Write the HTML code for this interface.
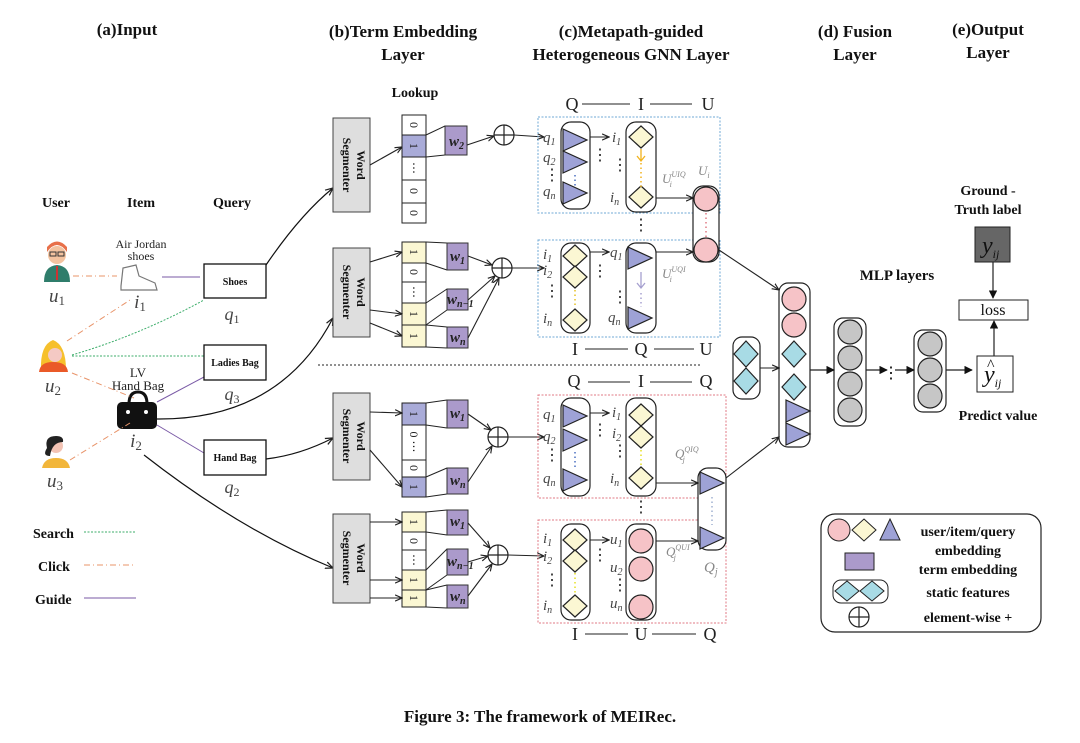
<!DOCTYPE html>
<html><head><meta charset="utf-8"><style>
html,body{margin:0;padding:0;background:#fff;}
svg{display:block;}
.h{font-family:"Liberation Serif",serif;font-weight:bold;font-size:17px;fill:#111;}
.b{font-family:"Liberation Serif",serif;font-weight:bold;fill:#111;}
.s{font-family:"Liberation Serif",serif;fill:#222;}
.i{font-family:"Liberation Serif",serif;font-style:italic;fill:#444;}
.g{font-family:"Liberation Serif",serif;font-style:italic;fill:#888;}
</style></head><body>
<svg width="1080" height="743" viewBox="0 0 1080 743" xmlns="http://www.w3.org/2000/svg">
<defs>
<marker id="ar" viewBox="0 0 10 10" refX="9" refY="5" markerWidth="7" markerHeight="7" orient="auto"><path d="M0,1 L9,5 L0,9" fill="none" stroke="#222" stroke-width="1.5"/></marker>
<marker id="af" viewBox="0 0 10 10" refX="9" refY="5" markerWidth="7" markerHeight="7" orient="auto"><path d="M0,0 L10,5 L0,10 z" fill="#111"/></marker>
<polygon id="tri" points="0,-11 24,0 0,11" fill="#9ea2d6" stroke="#222" stroke-width="1.2"/>
<polygon id="dia" points="0,-11 12,0 0,11 -12,0" fill="#fbf7d3" stroke="#222" stroke-width="1.2"/>
<polygon id="cdia" points="0,-13 12,0 0,13 -12,0" fill="#a8dbe5" stroke="#222" stroke-width="1.2"/>
<circle id="pc" r="12" fill="#f6c3c7" stroke="#222" stroke-width="1.2"/>
<circle id="gc" r="12" fill="#c6c6c6" stroke="#222" stroke-width="1.2"/>
<g id="plus"><circle r="10" fill="#fff" stroke="#222" stroke-width="1.2"/><path d="M-10,0 H10 M0,-10 V10" stroke="#222" stroke-width="1.2"/></g>
</defs>

<!-- headers -->
<text class="h" x="127" y="35" text-anchor="middle">(a)Input</text>
<text class="h" x="403" y="37" text-anchor="middle">(b)Term Embedding</text>
<text class="h" x="403" y="60" text-anchor="middle">Layer</text>
<text class="h" x="631" y="37" text-anchor="middle">(c)Metapath-guided</text>
<text class="h" x="631" y="60" text-anchor="middle">Heterogeneous GNN Layer</text>
<text class="h" x="855" y="37" text-anchor="middle">(d) Fusion</text>
<text class="h" x="855" y="60" text-anchor="middle">Layer</text>
<text class="h" x="988" y="35" text-anchor="middle">(e)Output</text>
<text class="h" x="988" y="58" text-anchor="middle">Layer</text>
<text class="b" x="415" y="97" font-size="14" text-anchor="middle">Lookup</text>

<!-- input -->
<text class="b" x="56" y="207" font-size="14" text-anchor="middle">User</text>
<text class="b" x="141" y="207" font-size="14" text-anchor="middle">Item</text>
<text class="b" x="232" y="207" font-size="14" text-anchor="middle">Query</text>

<!-- avatars -->
<g>
<circle cx="57" cy="255" r="9" fill="#f3c3a0"/><path d="M47,252 Q57,238 67,252 L67,247 Q57,236 47,247z" fill="#e8704a"/>
<rect x="50" y="252" width="6" height="4" fill="none" stroke="#333"/><rect x="58" y="252" width="6" height="4" fill="none" stroke="#333"/>
<path d="M44,282 Q44,266 57,265 Q70,266 70,282z" fill="#2f7d6b"/><rect x="56" y="266" width="2" height="14" fill="#c33"/>
</g>
<g>
<path d="M41,370 Q40,345 53,340 Q66,345 66,370z" fill="#f6c02c"/><circle cx="55" cy="355" r="7" fill="#f4c9c4"/>
<path d="M39,372 Q40,362 53,362 Q67,362 68,372z" fill="#ea5a28"/>
</g>
<g>
<circle cx="56" cy="446" r="7" fill="#f3c3b4"/><path d="M47,448 Q44,436 56,436 Q64,436 63,442 Q52,442 50,456 Q42,456 47,448z" fill="#222"/>
<path d="M42,468 Q44,458 56,458 Q68,458 70,468z" fill="#f2b63a"/>
</g>
<text class="i" x="57" y="302" font-size="19" text-anchor="middle">u<tspan font-size="13" dy="3" font-style="normal">1</tspan></text>
<text class="i" x="53" y="392" font-size="19" text-anchor="middle">u<tspan font-size="13" dy="3" font-style="normal">2</tspan></text>
<text class="i" x="55" y="487" font-size="19" text-anchor="middle">u<tspan font-size="13" dy="3" font-style="normal">3</tspan></text>

<text class="s" x="141" y="248" font-size="12" text-anchor="middle">Air Jordan</text>
<text class="s" x="141" y="260" font-size="12" text-anchor="middle">shoes</text>
<path d="M121,286 L123,268 L136,265 L139,276 L155,283 L157,290 L121,290z" fill="#fff" stroke="#777" stroke-width="1.2"/>
<text class="i" x="140" y="308" font-size="19" text-anchor="middle">i<tspan font-size="13" dy="3" font-style="normal">1</tspan></text>
<text class="s" x="138" y="377" font-size="13" text-anchor="middle">LV</text>
<text class="s" x="138" y="390" font-size="13" text-anchor="middle">Hand Bag</text>
<path d="M129,404 Q129,392 138,392 Q147,392 147,404" fill="none" stroke="#111" stroke-width="3"/>
<rect x="117" y="402" width="40" height="27" rx="5" fill="#111"/>
<circle cx="128" cy="412" r="2" fill="#fff"/><circle cx="146" cy="412" r="2" fill="#fff"/>
<text class="i" x="136" y="447" font-size="19" text-anchor="middle">i<tspan font-size="13" dy="3" font-style="normal">2</tspan></text>

<!-- input edges -->
<g fill="none" stroke-width="1">
<path d="M73,276 L117,276" stroke="#e8946a" stroke-dasharray="6,3,1,3"/>
<path d="M67,341 L130,300" stroke="#e8946a" stroke-dasharray="6,3,1,3"/>
<path d="M72,373 L134,398" stroke="#e8946a" stroke-dasharray="6,3,1,3"/>
<path d="M70,460 L130,423" stroke="#e8946a" stroke-dasharray="6,3,1,3"/>
<path d="M72,355 Q140,335 204,300" stroke="#3cad6a" stroke-dasharray="2,1.5"/>
<path d="M72,356 L204,356" stroke="#3cad6a" stroke-dasharray="2,1.5"/>
<path d="M162,277 L200,277" stroke="#7a5aa6"/>
<path d="M157,402 L204,377" stroke="#7a5aa6"/>
<path d="M157,425 L204,453" stroke="#7a5aa6"/>
</g>
<!-- query boxes -->
<rect x="204" y="264" width="62" height="34" fill="#fff" stroke="#111" stroke-width="1.3"/>
<text class="b" x="235" y="285" font-size="10" text-anchor="middle">Shoes</text>
<rect x="204" y="345" width="62" height="35" fill="#fff" stroke="#111" stroke-width="1.3"/>
<text class="b" x="235" y="366" font-size="10" text-anchor="middle">Ladies Bag</text>
<rect x="204" y="440" width="62" height="35" fill="#fff" stroke="#111" stroke-width="1.3"/>
<text class="b" x="235" y="461" font-size="10" text-anchor="middle">Hand Bag</text>
<text class="i" x="232" y="320" font-size="18" text-anchor="middle">q<tspan font-size="12" dy="3" font-style="normal">1</tspan></text>
<text class="i" x="232" y="400" font-size="18" text-anchor="middle">q<tspan font-size="12" dy="3" font-style="normal">3</tspan></text>
<text class="i" x="232" y="493" font-size="18" text-anchor="middle">q<tspan font-size="12" dy="3" font-style="normal">2</tspan></text>

<!-- legend left -->
<text class="b" x="33" y="538" font-size="14">Search</text>
<path d="M84,532 L136,532" stroke="#3cad6a" stroke-dasharray="2,1.5"/>
<text class="b" x="38" y="571" font-size="14">Click</text>
<path d="M84,565 L134,565" stroke="#e8946a" stroke-dasharray="6,3,1,3"/>
<text class="b" x="35" y="604" font-size="14">Guide</text>
<path d="M84,598 L136,598" stroke="#7a5aa6"/>

<!-- curves to segmenters -->
<g fill="none" stroke="#111" stroke-width="1.2" marker-end="url(#ar)">
<path d="M266,265 Q300,215 333,188"/>
<path d="M157,419 Q280,420 333,318"/>
<path d="M266,459 Q300,455 333,438"/>
<path d="M144,455 Q240,530 333,568"/>
</g>

<!-- word segmenters -->
<g>
<rect x="333" y="118" width="37" height="94" fill="#dedede" stroke="#444"/>
<rect x="333" y="248" width="37" height="89" fill="#dedede" stroke="#444"/>
<rect x="333" y="393" width="37" height="87" fill="#dedede" stroke="#444"/>
<rect x="333" y="514" width="37" height="89" fill="#dedede" stroke="#444"/>
<text class="b" font-size="12" text-anchor="middle" transform="translate(357,165) rotate(90)">Word</text>
<text class="b" font-size="12" text-anchor="middle" transform="translate(343,165) rotate(90)">Segmenter</text>
<text class="b" font-size="12" text-anchor="middle" transform="translate(357,292) rotate(90)">Word</text>
<text class="b" font-size="12" text-anchor="middle" transform="translate(343,292) rotate(90)">Segmenter</text>
<text class="b" font-size="12" text-anchor="middle" transform="translate(357,436) rotate(90)">Word</text>
<text class="b" font-size="12" text-anchor="middle" transform="translate(343,436) rotate(90)">Segmenter</text>
<text class="b" font-size="12" text-anchor="middle" transform="translate(357,558) rotate(90)">Word</text>
<text class="b" font-size="12" text-anchor="middle" transform="translate(343,558) rotate(90)">Segmenter</text>
</g>

<!-- vectors -->
<g stroke="#222" stroke-width="1">
<rect x="402" y="115" width="24" height="20" fill="#fff"/>
<rect x="402" y="135" width="24" height="22" fill="#a9abd8"/>
<rect x="402" y="157" width="24" height="23" fill="#fff"/>
<rect x="402" y="180" width="24" height="23" fill="#fff"/>
<rect x="402" y="203" width="24" height="20" fill="#fff"/>

<rect x="402" y="242" width="24" height="21" fill="#fbf7d3"/>
<rect x="402" y="263" width="24" height="19" fill="#fff"/>
<rect x="402" y="282" width="24" height="21" fill="#fff"/>
<rect x="402" y="303" width="24" height="22" fill="#fbf7d3"/>
<rect x="402" y="325" width="24" height="22" fill="#fbf7d3"/>

<rect x="402" y="403" width="24" height="22" fill="#a9abd8"/>
<rect x="402" y="425" width="24" height="35" fill="#fff"/>
<rect x="402" y="460" width="24" height="17" fill="#fff"/>
<rect x="402" y="477" width="24" height="20" fill="#a9abd8"/>

<rect x="402" y="512" width="24" height="20" fill="#fbf7d3"/>
<rect x="402" y="532" width="24" height="18" fill="#fff"/>
<rect x="402" y="550" width="24" height="20" fill="#fff"/>
<rect x="402" y="570" width="24" height="20" fill="#fbf7d3"/>
<rect x="402" y="590" width="24" height="17" fill="#fbf7d3"/>
</g>
<g class="s" font-size="12" text-anchor="middle">
<text transform="translate(410,125) rotate(90)">0</text>
<text transform="translate(410,146) rotate(90)">1</text>
<text transform="translate(410,168) rotate(90)">⋯</text>
<text transform="translate(410,191) rotate(90)">0</text>
<text transform="translate(410,213) rotate(90)">0</text>
<text transform="translate(410,252) rotate(90)">1</text>
<text transform="translate(410,272) rotate(90)">0</text>
<text transform="translate(410,292) rotate(90)">⋯</text>
<text transform="translate(410,314) rotate(90)">1</text>
<text transform="translate(410,336) rotate(90)">1</text>
<text transform="translate(410,414) rotate(90)">1</text>
<text transform="translate(410,442) rotate(90)">0 ⋯</text>
<text transform="translate(410,468) rotate(90)">0</text>
<text transform="translate(410,487) rotate(90)">1</text>
<text transform="translate(410,522) rotate(90)">1</text>
<text transform="translate(410,541) rotate(90)">0</text>
<text transform="translate(410,560) rotate(90)">⋯</text>
<text transform="translate(410,580) rotate(90)">1</text>
<text transform="translate(410,598) rotate(90)">1</text>
</g>

<!-- segmenter to vector arrows -->
<g fill="none" stroke="#222" stroke-width="1.1" marker-end="url(#ar)">
<path d="M370,165 L402,147"/>
<path d="M370,262 L402,252"/>
<path d="M370,310 L402,314"/>
<path d="M370,323 L402,336"/>
<path d="M370,412 L402,413"/>
<path d="M370,450 L402,487"/>
<path d="M370,522 L402,522"/>
<path d="M370,580 L402,580"/>
<path d="M370,598 L402,598"/>
</g>

<!-- term embedding boxes + trapezoid lines -->
<g stroke="#222" stroke-width="1" fill="none">
<path d="M426,135 L445,126 M426,157 L445,155"/>
<path d="M426,242 L447,243 M426,263 L447,270"/>
<path d="M426,303 L447,289 M426,325 L447,310"/>
<path d="M426,325 L447,327 M426,347 L447,348"/>
<path d="M426,403 L447,400 M426,425 L447,428"/>
<path d="M426,477 L447,468 M426,497 L447,494"/>
<path d="M426,512 L447,510 M426,532 L447,535"/>
<path d="M426,570 L447,549 M426,590 L447,575"/>
<path d="M426,590 L447,585 M426,607 L447,608"/>
</g>
<g fill="#ab9acb" stroke="#333" stroke-width="1">
<rect x="445" y="126" width="22" height="29"/>
<rect x="447" y="243" width="21" height="27"/>
<rect x="447" y="289" width="21" height="21"/>
<rect x="447" y="327" width="21" height="21"/>
<rect x="447" y="400" width="21" height="28"/>
<rect x="447" y="468" width="21" height="26"/>
<rect x="447" y="510" width="21" height="25"/>
<rect x="447" y="549" width="21" height="26"/>
<rect x="447" y="585" width="21" height="23"/>
</g>
<g class="i" font-size="15" fill="#222" style="fill:#222;font-weight:bold">
<text x="449" y="146">w<tspan font-size="10" dy="3">2</tspan></text>
<text x="450" y="261">w<tspan font-size="10" dy="3">1</tspan></text>
<text x="447" y="304">w<tspan font-size="10" dy="3">n−1</tspan></text>
<text x="450" y="342">w<tspan font-size="10" dy="3">n</tspan></text>
<text x="450" y="418">w<tspan font-size="10" dy="3">1</tspan></text>
<text x="450" y="485">w<tspan font-size="10" dy="3">n</tspan></text>
<text x="450" y="526">w<tspan font-size="10" dy="3">1</tspan></text>
<text x="447" y="566">w<tspan font-size="10" dy="3">n−1</tspan></text>
<text x="450" y="601">w<tspan font-size="10" dy="3">n</tspan></text>
</g>
<use href="#plus" x="504" y="135"/>
<use href="#plus" x="502" y="268"/>
<use href="#plus" x="498" y="437"/>
<use href="#plus" x="498" y="555"/>
<g fill="none" stroke="#222" stroke-width="1.1" marker-end="url(#ar)">
<path d="M467,145 L494,136"/>
<path d="M468,256 L492,265"/>
<path d="M468,300 L495,276"/>
<path d="M468,338 L499,278"/>
<path d="M468,414 L491,430"/>
<path d="M468,482 L492,446"/>
<path d="M468,523 L490,548"/>
<path d="M468,562 L488,556"/>
<path d="M468,596 L492,564"/>
<path d="M514,135 L544,137"/>
<path d="M512,268 L544,268"/>
<path d="M508,437 L544,437"/>
<path d="M508,555 L544,556"/>
</g>

<!-- separator -->
<path d="M318,365 L700,365" stroke="#222" stroke-dasharray="2,2" stroke-width="1"/>

<!-- GNN boxes -->
<g fill="none" stroke-width="1" stroke-dasharray="2,1.5">
<rect x="538" y="117" width="182" height="96" stroke="#6fa8d6"/>
<rect x="538" y="240" width="182" height="97" stroke="#6fa8d6"/>
<rect x="538" y="395" width="188" height="103" stroke="#e07a84"/>
<rect x="538" y="520" width="188" height="103" stroke="#e07a84"/>
</g>
<g font-family="Liberation Serif,serif" font-size="18" fill="#222" text-anchor="middle">
<text x="572" y="110">Q</text><text x="641" y="110">I</text><text x="708" y="110">U</text>
<text x="575" y="355">I</text><text x="641" y="355">Q</text><text x="706" y="355">U</text>
<text x="574" y="387">Q</text><text x="641" y="387">I</text><text x="706" y="387">Q</text>
<text x="575" y="640">I</text><text x="641" y="640">U</text><text x="710" y="640">Q</text>
</g>
<g stroke="#222" stroke-width="1">
<path d="M582,104 L630,104 M650,104 L692,104"/>
<path d="M585,349 L628,349 M654,349 L694,349"/>
<path d="M588,382 L630,382 M650,382 L692,382"/>
<path d="M585,634 L628,634 M652,634 L696,634"/>
</g>

<!-- pills -->
<g fill="#fff" stroke="#222" stroke-width="1.2">
<rect x="561" y="122" width="29" height="87" rx="10"/>
<rect x="626" y="122" width="30" height="90" rx="10"/>
<rect x="561" y="243" width="29" height="90" rx="10"/>
<rect x="626" y="243" width="30" height="90" rx="10"/>
<rect x="561" y="398" width="29" height="98" rx="10"/>
<rect x="626" y="398" width="30" height="98" rx="10"/>
<rect x="561" y="524" width="29" height="96" rx="10"/>
<rect x="626" y="524" width="30" height="96" rx="10"/>
<rect x="693" y="186" width="26" height="76" rx="10"/>
<rect x="698" y="468" width="28" height="82" rx="10"/>
</g>
<use href="#tri" x="563" y="140"/><use href="#tri" x="563" y="162"/><use href="#tri" x="563" y="193"/>
<use href="#dia" x="641" y="137"/><use href="#dia" x="641" y="197"/>
<use href="#dia" x="575" y="256"/><use href="#dia" x="575" y="277"/><use href="#dia" x="575" y="320"/>
<use href="#tri" x="628" y="258"/><use href="#tri" x="628" y="318"/>
<use href="#tri" x="563" y="416"/><use href="#tri" x="563" y="440"/><use href="#tri" x="563" y="480"/>
<use href="#dia" x="641" y="415"/><use href="#dia" x="641" y="437"/><use href="#dia" x="641" y="478"/>
<use href="#dia" x="575" y="540"/><use href="#dia" x="575" y="561"/><use href="#dia" x="575" y="606"/>
<use href="#pc" x="641" y="541"/><use href="#pc" x="641" y="569"/><use href="#pc" x="641" y="607"/>
<use href="#pc" x="706" y="199"/><use href="#pc" x="706" y="250"/>
<use href="#tri" x="700" y="483"/><use href="#tri" x="700" y="538"/>

<!-- inner dotted / arrows -->
<g stroke-width="1.5" stroke-dasharray="1.5,3" fill="none">
<path d="M575,175 L575,188" stroke="#4a6fc0"/>
<path d="M641,163 L641,188" stroke="#f2b21c"/>
<path d="M575,290 L575,308" stroke="#e6c020"/>
<path d="M641,293 L641,307" stroke="#a6a0cf"/>
<path d="M575,452 L575,470" stroke="#4a6fc0"/>
<path d="M641,450 L641,466" stroke="#e6e020"/>
<path d="M575,573 L575,594" stroke="#e6e020"/>
<path d="M706,213 L706,238" stroke="#e07a84"/>
<path d="M712,497 L712,525" stroke="#9fb0d0"/>
</g>
<path d="M641,149 L641,160 M637,156 L641,161 L645,156" stroke="#f2b21c" fill="none" stroke-width="1.3"/>
<path d="M641,272 L641,287 M637,283 L641,288 L645,283" stroke="#a6a0cf" fill="none" stroke-width="1.3"/>
<g font-family="Liberation Serif,serif" font-size="16" fill="#222" text-anchor="middle">
<text x="600" y="160">⋮</text><text x="620" y="170">⋮</text><text x="552" y="180">⋮</text>
<text x="641" y="230">⋮</text>
<text x="600" y="276">⋮</text><text x="552" y="296">⋮</text><text x="620" y="302">⋮</text>
<text x="600" y="435">⋮</text><text x="552" y="460">⋮</text><text x="620" y="456">⋮</text>
<text x="641" y="512">⋮</text>
<text x="600" y="560">⋮</text><text x="552" y="585">⋮</text><text x="620" y="590">⋮</text>
</g>
<g fill="none" stroke="#222" stroke-width="1.1" marker-end="url(#ar)">
<path d="M590,137 L609,137"/>
<path d="M656,198 L693,198"/>
<path d="M590,252 L609,252"/>
<path d="M656,252 L693,252"/>
<path d="M590,413 L609,413"/>
<path d="M656,483 L698,483"/>
<path d="M590,540 L609,540"/>
<path d="M656,541 L698,541"/>
</g>
<g class="i" font-size="15">
<text x="543" y="142">q<tspan font-size="10" dy="3">1</tspan></text>
<text x="543" y="162">q<tspan font-size="10" dy="3">2</tspan></text>
<text x="543" y="196">q<tspan font-size="10" dy="3">n</tspan></text>
<text x="612" y="142">i<tspan font-size="10" dy="3">1</tspan></text>
<text x="610" y="202">i<tspan font-size="10" dy="3">n</tspan></text>
<text x="543" y="259">i<tspan font-size="10" dy="3">1</tspan></text>
<text x="543" y="275">i<tspan font-size="10" dy="3">2</tspan></text>
<text x="543" y="323">i<tspan font-size="10" dy="3">n</tspan></text>
<text x="610" y="257">q<tspan font-size="10" dy="3">1</tspan></text>
<text x="608" y="322">q<tspan font-size="10" dy="3">n</tspan></text>
<text x="543" y="419">q<tspan font-size="10" dy="3">1</tspan></text>
<text x="543" y="441">q<tspan font-size="10" dy="3">2</tspan></text>
<text x="543" y="483">q<tspan font-size="10" dy="3">n</tspan></text>
<text x="612" y="417">i<tspan font-size="10" dy="3">1</tspan></text>
<text x="612" y="438">i<tspan font-size="10" dy="3">2</tspan></text>
<text x="610" y="483">i<tspan font-size="10" dy="3">n</tspan></text>
<text x="543" y="543">i<tspan font-size="10" dy="3">1</tspan></text>
<text x="543" y="561">i<tspan font-size="10" dy="3">2</tspan></text>
<text x="543" y="610">i<tspan font-size="10" dy="3">n</tspan></text>
<text x="610" y="544">u<tspan font-size="10" dy="3">1</tspan></text>
<text x="610" y="572">u<tspan font-size="10" dy="3">2</tspan></text>
<text x="610" y="608">u<tspan font-size="10" dy="3">n</tspan></text>
</g>
<g class="g" font-size="13">
<text x="662" y="183">U<tspan font-size="8" dy="-6">UIQ</tspan><tspan font-size="8" dx="-16" dy="10">i</tspan></text>
<text x="698" y="175">U<tspan font-size="8" dy="3">i</tspan></text>
<text x="662" y="278">U<tspan font-size="8" dy="-6">UQI</tspan><tspan font-size="8" dx="-16" dy="10">i</tspan></text>
<text x="675" y="458">Q<tspan font-size="8" dy="-6">QIQ</tspan><tspan font-size="8" dx="-16" dy="10">j</tspan></text>
<text x="666" y="556">Q<tspan font-size="8" dy="-6">QUI</tspan><tspan font-size="8" dx="-16" dy="10">j</tspan></text>
<text x="704" y="572" font-size="15">Q<tspan font-size="10" dy="3">j</tspan></text>
</g>

<!-- fusion -->
<g fill="#fff" stroke="#222" stroke-width="1.2">
<rect x="733" y="337" width="27" height="62" rx="9"/>
<rect x="779" y="283" width="31" height="164" rx="9"/>
<rect x="834" y="318" width="32" height="108" rx="9"/>
<rect x="914" y="330" width="32" height="82" rx="9"/>
</g>
<use href="#cdia" x="746" y="354"/><use href="#cdia" x="746" y="381"/>
<use href="#pc" x="794" y="299"/><use href="#pc" x="794" y="325"/>
<use href="#cdia" x="794" y="354"/><use href="#cdia" x="794" y="387"/>
<use href="#tri" x="786" y="411"/><use href="#tri" x="786" y="434"/>
<use href="#gc" x="850" y="332"/><use href="#gc" x="850" y="358"/><use href="#gc" x="850" y="384"/><use href="#gc" x="850" y="410"/>
<use href="#gc" x="930" y="344"/><use href="#gc" x="930" y="370"/><use href="#gc" x="930" y="396"/>
<g fill="none" stroke="#222" stroke-width="1.1" marker-end="url(#ar)">
<path d="M719,250 L779,290"/>
<path d="M726,478 L779,437"/>
<path d="M760,368 L779,368"/>
</g>
<g fill="none" stroke="#222" stroke-width="1.2" marker-end="url(#af)">
<path d="M810,370 L834,370"/>
<path d="M866,370 L887,370"/>
<path d="M895,370 L914,370"/>
<path d="M946,370 L972,370"/>
<path d="M994,356 L994,321"/>
<path d="M993,262 L993,298"/>
</g>
<text x="891" y="378" font-family="Liberation Serif,serif" font-size="16" text-anchor="middle">⋮</text>
<text class="b" x="897" y="280" font-size="15" text-anchor="middle">MLP layers</text>
<text class="b" x="988" y="195" font-size="14" text-anchor="middle">Ground -</text>
<text class="b" x="988" y="214" font-size="14" text-anchor="middle">Truth label</text>
<rect x="975" y="227" width="35" height="35" fill="#666" stroke="#222"/>
<text x="982" y="253" font-family="Liberation Serif,serif" font-style="italic" font-size="24" fill="#111">y<tspan font-size="12" dy="5">ij</tspan></text>
<rect x="959" y="300" width="69" height="20" fill="#fff" stroke="#222"/>
<text x="993" y="315" font-family="Liberation Serif,serif" font-size="16" text-anchor="middle" fill="#111">loss</text>
<rect x="977" y="356" width="36" height="36" fill="#fff" stroke="#222"/>
<text x="984" y="382" font-family="Liberation Serif,serif" font-style="italic" font-size="24" fill="#111">y<tspan font-size="12" dy="5">ij</tspan></text>
<text x="987" y="370" font-family="Liberation Serif,serif" font-size="16" fill="#111">^</text>
<text class="b" x="998" y="420" font-size="14" text-anchor="middle">Predict value</text>

<!-- legend right -->
<rect x="821" y="514" width="220" height="118" rx="14" fill="#fff" stroke="#222" stroke-width="1.2"/>
<circle cx="839" cy="530" r="11" fill="#f6c3c7" stroke="#222"/>
<polygon points="864,519 876,530 864,541 852,530" fill="#fbf7d3" stroke="#222"/>
<polygon points="890,519 900,540 880,540" fill="#9ea2d6" stroke="#222"/>
<rect x="845" y="553" width="29" height="17" fill="#ab9acb" stroke="#222"/>
<rect x="833" y="580" width="55" height="23" rx="8" fill="#fff" stroke="#222"/>
<polygon points="847,581 859,591 847,601 835,591" fill="#a8dbe5" stroke="#222"/>
<polygon points="872,581 884,591 872,601 860,591" fill="#a8dbe5" stroke="#222"/>
<use href="#plus" x="859" y="617" transform="scale(1)"/>
<g class="b" font-size="14" text-anchor="middle">
<text x="968" y="536">user/item/query</text>
<text x="968" y="555">embedding</text>
<text x="968" y="574">term embedding</text>
<text x="968" y="597">static features</text>
<text x="968" y="622">element-wise +</text>
</g>

<text class="b" x="540" y="722" font-size="17" text-anchor="middle">Figure 3: The framework of MEIRec.</text>
</svg>
</body></html>
